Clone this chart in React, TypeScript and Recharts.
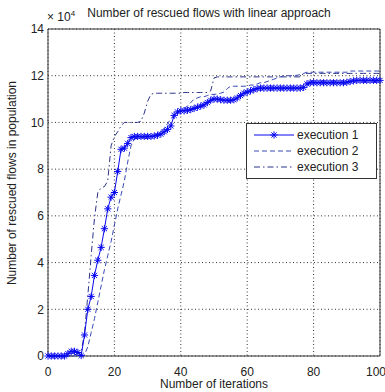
import {
  LineChart,
  Line,
  XAxis,
  YAxis,
  CartesianGrid,
  ReferenceArea,
  Legend,
} from "recharts";

// iteration number (x axis)
const iterations = [
  0, 1, 2, 3, 4, 5, 6, 7, 8, 9,
  10, 11, 12, 13, 14, 15, 16, 17, 18, 19,
  20, 21, 22, 23, 24, 25, 26, 27, 28, 29,
  30, 31, 32, 33, 34, 35, 36, 37, 38, 39,
  40, 41, 42, 43, 44, 45, 46, 47, 48, 49,
  50, 51, 52, 53, 54, 55, 56, 57, 58, 59,
  60, 61, 62, 63, 64, 65, 66, 67, 68, 69,
  70, 71, 72, 73, 74, 75, 76, 77, 78, 79,
  80, 81, 82, 83, 84, 85, 86, 87, 88, 89,
  90, 91, 92, 93, 94, 95, 96, 97, 98, 99,
  100,
];

// rescued flows, in units of 10^4
const execution1 = [
  0, 0, 0, 0, 0, 0, 0.1, 0.2, 0.2, 0.15,
  0.02, 0.9, 2.0, 2.55, 3.45, 4.1, 4.65, 5.45, 6.3, 6.8,
  7.0, 7.9, 8.85, 8.9, 9.1, 9.35, 9.4, 9.4, 9.4, 9.4,
  9.4, 9.4, 9.42, 9.45, 9.5, 9.6, 9.7, 9.85, 10.3, 10.45,
  10.5, 10.5, 10.52, 10.55, 10.6, 10.65, 10.7, 10.75, 10.85, 10.95,
  11.0, 11.0, 10.97, 10.95, 10.95, 10.95, 10.97, 11.05, 11.15, 11.25,
  11.3, 11.35, 11.4, 11.45, 11.47, 11.47, 11.47, 11.47, 11.47, 11.47,
  11.47, 11.47, 11.47, 11.47, 11.47, 11.47, 11.47, 11.5, 11.65, 11.7,
  11.7, 11.7, 11.7, 11.7, 11.7, 11.7, 11.7, 11.7, 11.7, 11.7,
  11.72, 11.75, 11.78, 11.8, 11.8, 11.8, 11.8, 11.8, 11.8, 11.8,
  11.8,
];

const execution2 = [
  0, 0, 0, 0, 0, 0, 0, 0, 0, 0,
  0, 0.05, 0.4, 1.0, 1.6, 2.3, 3.0, 3.7, 4.3, 4.9,
  5.6, 6.3, 6.9, 7.5, 8.3, 9.0, 9.3, 9.3, 9.35, 9.35,
  9.4, 9.4, 9.45, 9.5, 9.6, 9.75, 9.95, 10.15, 10.3, 10.4,
  10.5, 10.6, 10.7, 10.85, 11.0, 11.05, 11.1, 11.1, 11.15, 11.2,
  11.2, 11.22, 11.25, 11.3, 11.45, 11.55, 11.55, 11.55, 11.55, 11.55,
  11.55, 11.6, 11.6, 11.65, 11.7, 11.7, 11.75, 11.8, 11.85, 11.9,
  11.95, 12.0, 12.0, 12.0, 12.0, 12.02, 12.05, 12.1, 12.15, 12.15,
  12.15, 12.15, 12.15, 12.15, 12.15, 12.15, 12.15, 12.15, 12.15, 12.15,
  12.15, 12.2, 12.2, 12.2, 12.2, 12.2, 12.2, 12.2, 12.2, 12.2,
  12.2,
];

const execution3 = [
  0, 0, 0, 0, 0, 0, 0, 0, 0.05, 0.1,
  0.15, 1.0, 2.6, 4.3, 5.9, 7.0, 7.2, 7.25, 7.5, 9.0,
  9.4, 9.6, 9.85, 10.0, 10.0, 10.0, 10.0, 10.0, 10.05, 10.4,
  10.9, 11.2, 11.25, 11.25, 11.25, 11.25, 11.25, 11.25, 11.25, 11.25,
  11.25, 11.28, 11.28, 11.28, 11.28, 11.28, 11.28, 11.28, 11.28, 11.35,
  11.9, 11.95, 11.95, 11.95, 11.95, 11.95, 11.95, 11.95, 11.95, 11.95,
  11.95, 11.95, 11.95, 11.95, 11.95, 11.95, 11.95, 11.95, 11.95, 11.95,
  11.95, 11.95, 11.95, 11.95, 11.95, 11.95, 11.95, 12.1, 12.1, 12.1,
  12.1, 12.1, 12.1, 12.1, 12.1, 12.1, 12.1, 12.1, 12.1, 12.1,
  12.1, 12.1, 12.1, 12.1, 12.1, 12.1, 12.1, 12.1, 12.1, 12.1,
  12.1,
];

const xTicks = [0, 20, 40, 60, 80, 100];
const yTicks = [0, 2, 4, 6, 8, 10, 12, 14];
const seriesNames = ["execution 1", "execution 2", "execution 3"];

const FONT = "'Liberation Sans', Arial, Helvetica, sans-serif";
const TXT = "#222";
const C1 = "#0808f0";
const C2 = "#3848b4";
const C3 = "#2a3488";
const DASH2 = "5 3";
const DASH3 = "6 3 1.5 3";

const chartData = iterations.map((it, i) => ({
  iter: it,
  e1: execution1[i],
  e2: execution2[i],
  e3: execution3[i],
}));

// matlab style '*' marker
const Star = (props: any) => {
  const { cx, cy, index } = props;
  if (cx == null || cy == null) return <g key={`s-${index}`} />;
  const r = 3.6;
  const d = r * 0.72;
  return (
    <g key={`s-${index}`} stroke={C1} strokeWidth={1}>
      <line x1={cx - r} y1={cy} x2={cx + r} y2={cy} />
      <line x1={cx} y1={cy - r} x2={cx} y2={cy + r} />
      <line x1={cx - d} y1={cy - d} x2={cx + d} y2={cy + d} />
      <line x1={cx - d} y1={cy + d} x2={cx + d} y2={cy - d} />
    </g>
  );
};

const LegendBox = () => {
  const samples = [
    { color: C1, dash: undefined as string | undefined, star: true },
    { color: C2, dash: DASH2, star: false },
    { color: C3, dash: DASH3, star: false },
  ];
  return (
    <div
      style={{
        border: "1px solid #333",
        background: "#fff",
        boxSizing: "border-box",
        width: 131,
        height: 56,
        padding: "3px 0 0 6px",
        fontFamily: FONT,
        fontSize: 12,
        color: TXT,
      }}
    >
      {seriesNames.map((name, i) => (
        <div key={name} style={{ display: "flex", alignItems: "center", height: 16 }}>
          <svg width={42} height={10} style={{ marginRight: 2 }}>
            <line
              x1={1}
              y1={5}
              x2={41}
              y2={5}
              stroke={samples[i].color}
              strokeWidth={1}
              strokeDasharray={samples[i].dash}
            />
            {samples[i].star && <Star cx={21} cy={5} index={99} />}
          </svg>
          <span>{name}</span>
        </div>
      ))}
    </div>
  );
};

export default function App() {
  return (
    <div
      style={{
        position: "absolute",
        left: 0,
        top: 0,
        width: 385,
        height: 392,
        background: "#fff",
        fontFamily: FONT,
        color: TXT,
      }}
    >
      <LineChart
        width={385}
        height={392}
        data={chartData}
        margin={{ top: 29, right: 5, bottom: 4, left: 8 }}
      >
        <CartesianGrid stroke="#000" strokeDasharray="1 2.5" strokeWidth={0.8} />
        <XAxis
          type="number"
          dataKey="iter"
          domain={[0, 100]}
          ticks={xTicks}
          height={32}
          tickLine={false}
          axisLine={false}
          tickSize={0}
          tickMargin={11}
          tick={{ fontSize: 12, fill: TXT, fontFamily: FONT }}
          label={{
            value: "Number of iterations",
            position: "insideBottom",
            offset: 0,
            fontSize: 12,
            fill: TXT,
            fontFamily: FONT,
          }}
        />
        <YAxis
          type="number"
          domain={[0, 14]}
          ticks={yTicks}
          width={40}
          tickLine={false}
          axisLine={false}
          tickSize={0}
          tickMargin={4}
          tick={{ fontSize: 12, fill: TXT, fontFamily: FONT }}
        />
        <ReferenceArea
          x1={0}
          x2={100}
          y1={0}
          y2={14}
          fill="none"
          stroke="#333"
          strokeWidth={1}
          ifOverflow="visible"
        />
        <Line
          dataKey="e3"
          name={seriesNames[2]}
          stroke={C3}
          strokeWidth={1}
          strokeDasharray={DASH3}
          dot={false}
          type="linear"
          isAnimationActive={false}
        />
        <Line
          dataKey="e2"
          name={seriesNames[1]}
          stroke={C2}
          strokeWidth={1}
          strokeDasharray={DASH2}
          dot={false}
          type="linear"
          isAnimationActive={false}
        />
        <Line
          dataKey="e1"
          name={seriesNames[0]}
          stroke={C1}
          strokeWidth={1}
          dot={Star}
          activeDot={false}
          type="linear"
          isAnimationActive={false}
        />
        <Legend
          layout="horizontal"
          verticalAlign="middle"
          align="center"
          content={() => <LegendBox />}
          wrapperStyle={{ left: 246, top: 123, width: 131, height: 56 }}
        />
      </LineChart>

      {/* title and exponent */}
      <div
        style={{
          position: "absolute",
          left: 209,
          top: 6,
          transform: "translateX(-50%)",
          whiteSpace: "nowrap",
          fontSize: 12,
          lineHeight: "14px",
        }}
      >
        Number of rescued flows with linear approach
      </div>
      <div
        style={{
          position: "absolute",
          left: 47,
          top: 7,
          whiteSpace: "nowrap",
          fontSize: 12,
          lineHeight: "14px",
        }}
      >
        × 10<sup style={{ fontSize: 8, verticalAlign: "5px" }}>4</sup>
      </div>

      {/* y axis title */}
      <div
        style={{
          position: "absolute",
          left: 12,
          top: 183,
          transform: "translate(-50%, -50%) rotate(-90deg)",
          whiteSpace: "nowrap",
          fontSize: 12,
          lineHeight: "14px",
        }}
      >
        Number of rescued flows in population
      </div>
    </div>
  );
}
